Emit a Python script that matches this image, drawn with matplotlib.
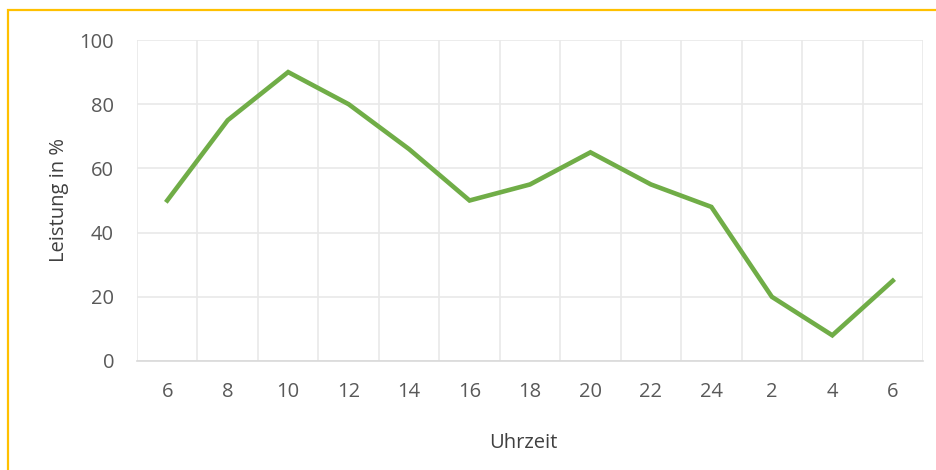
import matplotlib.pyplot as plt
from matplotlib.patches import Rectangle
import numpy as np

uhrzeit = ["6", "8", "10", "12", "14", "16", "18", "20", "22", "24", "2", "4", "6"]
leistung = [50, 75, 90, 80, 66, 50, 55, 65, 55, 48, 20, 8, 25]

plt.rcParams['font.family'] = ['Open Sans', 'DejaVu Sans']
txt = "#595959"
grid = "#e9e9e9"

fig = plt.figure(figsize=(9.37, 4.70), dpi=100)
ax = fig.add_axes([137 / 937, 1 - 361 / 470, (923 - 137) / 937, (361 - 40) / 470])

x = np.arange(len(uhrzeit))
ax.plot(x, leistung, color="#70AD47", linewidth=3.3, solid_joinstyle="miter")

ax.set_xlim(-0.5, len(uhrzeit) - 0.5)
ax.set_ylim(0, 100)
ax.set_yticks(range(0, 101, 20))
ax.set_xticks(x)
ax.set_xticklabels(uhrzeit)
ax.set_xticks(np.arange(-0.5, len(uhrzeit), 1), minor=True)

ax.grid(axis="y", which="major", color=grid, linewidth=1.2)
ax.grid(axis="x", which="minor", color=grid, linewidth=1.2)
ax.set_axisbelow(True)
for s in ["top", "right", "left"]:
    ax.spines[s].set_visible(False)
ax.spines["bottom"].set_color("#d9d9d9")
ax.spines["bottom"].set_linewidth(1.2)

ax.tick_params(axis="both", which="both", length=0, labelsize=14.5, labelcolor=txt)
ax.tick_params(axis="x", pad=15)
ax.tick_params(axis="y", pad=16.5)

ax.set_xlabel("Uhrzeit", fontsize=14.5, color="#404040", va="center")
ax.set_ylabel("Leistung in %", fontsize=14.5, color="#404040", va="center")
ax.xaxis.set_label_coords((523 - 137) / 786, (361 - 443) / 321)
ax.yaxis.set_label_coords((59 - 137) / 786, 0.5)

fig.patches.append(Rectangle((8 / 937, -0.1), 1.2, 1.1 - 10 / 470, transform=fig.transFigure,
                             fill=False, edgecolor="#FFC000", linewidth=1.6))

fig.savefig("out.png", dpi=100)
